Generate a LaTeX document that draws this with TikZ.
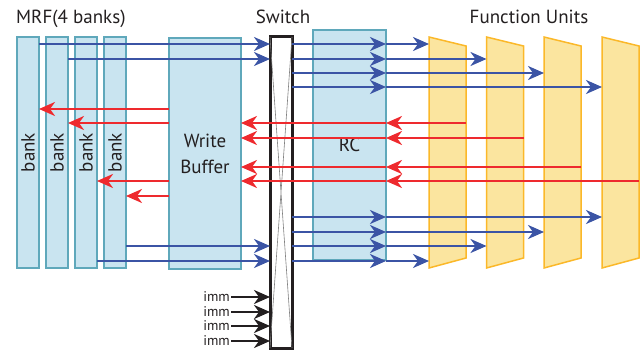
\documentclass[tikz,border=0pt]{standalone}
\usepackage{fontspec}
\setmainfont{PT Sans}
\usetikzlibrary{arrows.meta}
\definecolor{bankfill}{HTML}{C9E4F0}
\definecolor{bankline}{HTML}{5FA8BB}
\definecolor{busblue}{HTML}{3B54A5}
\definecolor{busred}{HTML}{EE2A2E}
\definecolor{fufill}{HTML}{FBE59F}
\definecolor{fuline}{HTML}{FBB829}
\definecolor{txt}{HTML}{231F20}

\begin{document}
\begin{tikzpicture}[x=1pt,y=-1pt,
  every node/.style={text=txt,font=\fontsize{19}{26}\selectfont},
  regbox/.style={draw=bankline,fill=bankfill,line width=1.5pt,inner sep=0pt,outer sep=0pt},
  futrap/.style={draw=fuline,fill=fufill,line width=1.5pt},
  bustip/.style={-{Stealth[length=16pt,width=14pt,inset=5pt]}},
  bus/.style={bustip,draw=busblue,line width=2.6pt},
  rdbus/.style={bustip,draw=busred,line width=2.6pt},
  immbus/.style={bustip,draw=txt,line width=2.6pt}]
  \useasboundingbox (0,0) rectangle (643,350);

  % headings
  \node[anchor=base west,inner sep=0pt] (mrf) at (16,24) {MRF(4 banks)};
  \node[anchor=base,inner sep=0pt] (swname) at (283,24) {Switch};
  \node[anchor=base,inner sep=0pt] (funame) at (529,24) {Function Units};

  % register file, write buffer, switch, RC
  \foreach \i/\x in {1/28,2/57,3/86,4/115}
    \node[regbox,minimum width=22pt,minimum height=231pt] (bank\i) at (\x,152.5) {\rotatebox{90}{bank}};
  \node[regbox,minimum width=72pt,minimum height=231pt,align=center] (wbuf) at (205,153.5) {Write\\Buffer};
  \node[regbox,minimum width=73pt,minimum height=230pt] (rc) at (349.5,145) {RC};
  \node[draw=txt,fill=white,line width=3pt,minimum width=22pt,minimum height=311pt,inner sep=0pt,outer sep=0pt] (sw) at (281,192.5) {};
  \draw[gray,line width=0.6pt] (sw.north west) -- (sw.south east) (sw.north east) -- (sw.south west);

  % function units
  \foreach \i/\x in {1/447.5,2/505,3/562.5,4/620.5} {
    \node[minimum width=37pt,minimum height=231pt,inner sep=0pt,outer sep=0pt] (fu\i) at (\x,152.5) {};
    \draw[futrap] (fu\i.north west) -- ([yshift=-9pt]fu\i.north east) -- ([yshift=10pt]fu\i.south east) -- (fu\i.south west) -- cycle;
  }

  % rows of the buses
  \foreach \n/\y in {t1/44,t2/59,t3/73,t4/87,r1/109,r2/123,r3/138,r4/167,r5/181,r6/196,d1/217,d2/232,d3/246,d4/261}
    \coordinate (\n) at (0,\y);

  % reads
  \draw[bus] (bank1.east |- t1) -- (sw.west |- t1);
  \draw[bus] (bank2.east |- t2) -- (sw.west |- t2);
  \draw[bus] (bank4.east |- d3) -- (sw.west |- d3);
  \draw[bus] (bank3.east |- d4) -- (sw.west |- d4);
  \foreach \r/\f in {t1/1,t2/2,t3/3,t4/4,d1/4,d2/3,d3/2,d4/1} {
    \draw[bus] (sw.east |- \r) -- (rc.east |- \r);
    \draw[bus] (rc.east |- \r) -- (fu\f.west |- \r);
  }

  % writes
  \draw[rdbus] (wbuf.west |- r1) -- (bank1.east |- r1);
  \draw[rdbus] (wbuf.west |- r2) -- (bank2.east |- r2);
  \draw[rdbus] (wbuf.west |- r5) -- (bank3.east |- r5);
  \draw[rdbus] (wbuf.west |- r6) -- (bank4.east |- r6);
  \foreach \r/\f in {r2/1,r3/2,r4/3,r5/4} {
    \draw[rdbus] (fu\f.east |- \r) -- (rc.east |- \r);
    \draw[rdbus] (rc.east |- \r) -- (wbuf.east |- \r);
  }

  % immediates
  \foreach \i/\y in {1/297,2/312,3/326,4/341} {
    \node[font=\fontsize{14}{16}\selectfont,anchor=east,inner sep=1pt] (imm\i) at (231,\y) {imm};
    \draw[immbus] (imm\i) -- (sw.west |- imm\i);
  }
\end{tikzpicture}
\end{document}
